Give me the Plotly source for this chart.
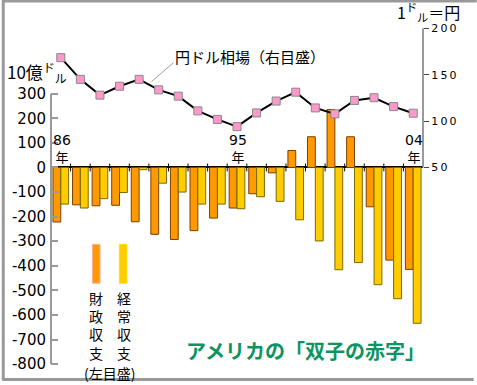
import plotly.graph_objects as go

# ---------------- data ----------------
years = list(range(1986, 2005))
fiscal = [-222, -152, -156, -154, -221, -272, -293, -257, -206, -165,
          -107, -22, 69, 125, 236, 125, -160, -377, -415]
current = [-149, -165, -127, -102, -9, -64, -100, -149, -149, -168,
           -119, -138, -213, -299, -416, -387, -477, -534, -634]
yen = [168.4, 145.0, 128.0, 137.6, 145.0, 133.7, 126.9, 111.0, 101.8, 94.0,
       108.8, 121.6, 131.2, 114.2, 107.8, 122.3, 125.2, 115.6, 108.5]

left_ticks = [-800, -700, -600, -500, -400, -300, -200, -100, 0, 100, 200, 300]
right_ticks = [50, 100, 150, 200]
year_marks = [1986, 1995, 2004]
year_mark_text = ["86", "95", "04"]

# ---------------- layout constants ----------------
W, H = 477, 385
ML, MR, MT, MB = 49, 54, 20, 15
PW, PH = W - ML - MR, H - MT - MB
Y1 = [-820, 600]
RATIO = 0.265
Y2 = [50 + Y1[0] * RATIO, 50 + Y1[1] * RATIO]

ORANGE = "#FF9900"
YELLOW = "#FFCC00"
JP = "Noto Sans CJK JP"
NUM = "DejaVu Sans"


def px(xp):
    return (xp - ML) / PW


def py(yp):
    return (H - MB - yp) / PH


fig = go.Figure()
fig.add_trace(go.Bar(x=years, y=fiscal, marker=dict(color=ORANGE, line=dict(color="#7a4000", width=1)),
                     yaxis="y", name="財政収支"))
fig.add_trace(go.Bar(x=years, y=current, marker=dict(color=YELLOW, line=dict(color="#7a6a00", width=1)),
                     yaxis="y", name="経常収支"))
fig.add_trace(go.Scatter(x=years, y=yen, yaxis="y2", mode="lines+markers",
                         line=dict(color="black", width=2),
                         marker=dict(symbol="square", size=8, color="#FF99CC",
                                     line=dict(color="#888888", width=1)),
                         name="円ドル相場"))

shapes = []
# partial axis lines
shapes.append(dict(type="line", xref="paper", yref="y", x0=0, x1=0, y0=-800, y1=300,
                   line=dict(color="#999999", width=2)))
shapes.append(dict(type="line", xref="paper", yref="y2", x0=1, x1=1, y0=50, y1=200,
                   line=dict(color="#999999", width=2)))
# year-boundary ticks across the zero line
for yv in years[:-1]:
    shapes.append(dict(type="line", xref="x", yref="y", x0=yv + 0.5, x1=yv + 0.5, y0=-16, y1=16,
                       line=dict(color="black", width=1)))
# leader line for the yen label
shapes.append(dict(type="line", xref="x", yref="y2", x0=1990.63, y0=142.5, x1=1991.75, y1=162.9,
                   line=dict(color="#888888", width=0.8)))
# legend swatches
shapes.append(dict(type="rect", xref="paper", yref="paper", x0=px(90.7), x1=px(98.3), y0=py(284), y1=py(245),
                   fillcolor=ORANGE, line=dict(color="#FFB0A0", width=1)))
shapes.append(dict(type="rect", xref="paper", yref="paper", x0=px(117.7), x1=px(125.3), y0=py(284), y1=py(245),
                   fillcolor=YELLOW, line=dict(color="#FFE000", width=1)))
# frame
for (x0, y0, x1, y1) in [(0, 1, 477, 1), (1, 0, 1, 381), (0, 380.5, 474, 380.5)]:
    shapes.append(dict(type="line", xref="paper", yref="paper", x0=px(x0), x1=px(x1), y0=py(y0), y1=py(y1),
                       line=dict(color="#999999", width=3)))

ann = []
ann.append(dict(text="10億<sup>ド</sup><sub>ル</sub>", xref="paper", yref="paper", x=px(3), y=py(72),
                xanchor="left", yanchor="middle", showarrow=False, font=dict(family=JP, size=17, color="black")))
ann.append(dict(text="1<sup>ド</sup><sub>ル</sub>＝円", xref="paper", yref="paper", x=px(395), y=py(12),
                xanchor="left", yanchor="middle", showarrow=False, font=dict(family=JP, size=16, color="black")))
ann.append(dict(text="円ドル相場（右目盛）", xref="paper", yref="paper", x=px(172), y=py(57),
                xanchor="left", yanchor="middle", showarrow=False, font=dict(family=JP, size=15, color="black")))
ann.append(dict(text="アメリカの「双子の赤字」", xref="paper", yref="paper", x=px(183), y=py(351),
                xanchor="left", yanchor="middle", showarrow=False,
                font=dict(family=JP, size=20, color="#0E9460", weight="bold")))
ann.append(dict(text="財<br>政<br>収<br>支", xref="paper", yref="paper", x=px(94.5), y=py(287),
                xanchor="center", yanchor="top", showarrow=False, font=dict(family=JP, size=14, color="black")))
ann.append(dict(text="経<br>常<br>収<br>支", xref="paper", yref="paper", x=px(122), y=py(287),
                xanchor="center", yanchor="top", showarrow=False, font=dict(family=JP, size=14, color="black")))
ann.append(dict(text="(左目盛)", xref="paper", yref="paper", x=px(107.5), y=py(374),
                xanchor="center", yanchor="middle", showarrow=False, font=dict(family=JP, size=14, color="black")))
for yv, t in zip(year_marks, year_mark_text):
    ann.append(dict(text=f"<span style='font-family:DejaVu Sans;font-size:14px'>{t}</span><br>年",
                    xref="x", yref="y", x=yv + 0.05, y=74, xanchor="center", yanchor="middle",
                    showarrow=False, font=dict(family=JP, size=13, color="black")))

fig.update_layout(
    width=W, height=H, margin=dict(l=ML, r=MR, t=MT, b=MB),
    paper_bgcolor="white", plot_bgcolor="white", showlegend=False,
    barmode="group", bargap=0.2, bargroupgap=0,
    xaxis=dict(range=[1985.5, 2004.5], showgrid=False, zeroline=False, showline=False,
               showticklabels=False, ticks=""),
    yaxis=dict(range=Y1, tickvals=left_ticks, ticktext=[str(v) for v in left_ticks],
               ticks="inside", ticklen=7, tickwidth=1.5, tickcolor="#999999",
               showgrid=False, showline=False, zeroline=True, zerolinecolor="black", zerolinewidth=1.5,
               tickfont=dict(family=NUM, size=15, color="black"), ticklabelstandoff=4),
    yaxis2=dict(range=Y2, overlaying="y", side="right", tickvals=right_ticks,
                ticktext=["\u2009".join(str(v)) for v in right_ticks],
                ticks="outside", ticklen=5, tickwidth=1.2, tickcolor="#444444",
                showgrid=False, showline=False, zeroline=False,
                tickfont=dict(family=NUM, size=11, color="black")),
    shapes=shapes, annotations=ann,
)

fig.write_html("out.html", config={"displayModeBar": False},
               post_script="document.body.style.margin='0';document.body.style.overflow='hidden';")
